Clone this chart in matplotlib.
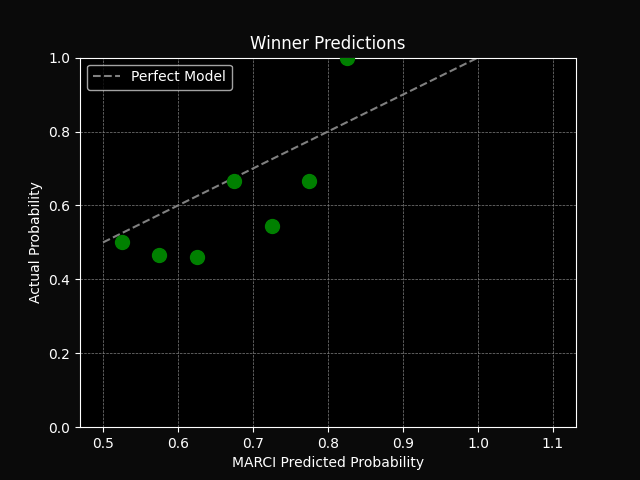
import matplotlib
matplotlib.use("Agg")
import matplotlib.pyplot as plt

# predicted probability bins vs actual win rate
predicted = [0.525, 0.575, 0.625, 0.675, 0.725, 0.775, 0.825]
actual = [0.50, 0.465, 0.46, 0.665, 0.545, 0.665, 1.0]
perfect_x = [0.5, 1.0]
perfect_y = [0.5, 1.0]

plt.style.use("dark_background")
fig, ax = plt.subplots(figsize=(6.4, 4.8), dpi=100)
fig.patch.set_facecolor("#0a0a0a")
ax.set_facecolor("#000000")

ax.plot(perfect_x, perfect_y, linestyle="--", color="gray", label="Perfect Model")
ax.scatter(predicted, actual, s=100, color="green", zorder=3)

ax.set_xlim(0.4693, 1.1307)
ax.set_ylim(0, 1)
ax.grid(True, linestyle="--", linewidth=0.5, color="gray")
ax.set_title("Winner Predictions")
ax.set_xlabel("MARCI Predicted Probability")
ax.set_ylabel("Actual Probability")
ax.legend(loc="upper left")

fig.savefig("out.png", dpi=100, facecolor=fig.get_facecolor())
